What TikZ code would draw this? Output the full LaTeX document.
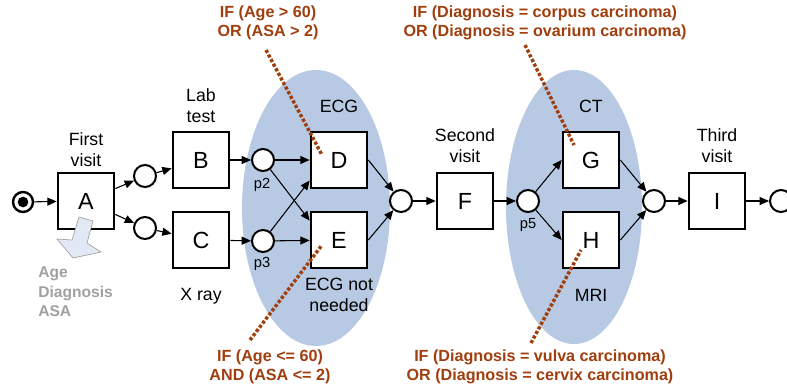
\documentclass[tikz,border=0pt]{standalone}
\usepackage{fontspec}
\setmainfont{Liberation Sans}
\usetikzlibrary{arrows.meta,calc,backgrounds}
\definecolor{ellblue}{RGB}{184,202,227}
\definecolor{condred}{RGB}{160,62,14}
\definecolor{attrgrey}{RGB}{160,160,160}
\definecolor{arrowfill}{RGB}{226,233,245}
\begin{document}
\begin{tikzpicture}[x=0.75pt,y=-0.75pt,
 task/.style={draw,line width=1.5pt,fill=white,minimum size=42.5pt,inner sep=0pt,font=\fontsize{17.5}{20}\selectfont},
 place/.style={circle,draw,line width=1.5pt,fill=white,minimum size=16.5pt,inner sep=0pt},
 lbl/.style={align=center,font=\fontsize{13.3}{15.6}\selectfont,inner sep=0pt},
 plbl/.style={font=\fontsize{11}{13}\selectfont,inner sep=0pt},
 cond/.style={align=center,text=condred,font=\bfseries\fontsize{12.1}{14.3}\selectfont,inner sep=0pt},
 attr/.style={align=left,text=attrgrey,font=\bfseries\fontsize{11.7}{14.6}\selectfont,inner sep=0pt},
 flow/.style={line width=0.8pt,-{Triangle[length=7pt,width=6pt]}},
 link/.style={draw=condred,line width=2.6pt,dash pattern=on 2.4pt off 1.5pt},
]
\useasboundingbox (0,0) rectangle (787,390);

% places
\node[place,minimum size=15pt,line width=1.8pt] (start) at (23,202) {};
\node[circle,fill,minimum size=8pt,inner sep=0pt] (startdot) at (start.center) {};
\node[place] (p1) at (145,176) {};
\node[place] (p1b) at (145,228) {};
\node[place] (p2) at (263,160) {};
\node[place] (p3) at (263,241) {};
\node[place] (p4) at (401,201) {};
\node[place] (p5) at (528,201) {};
\node[place] (p6) at (654,201) {};
\node[place] (pend) at (781,201) {};

% tasks
\node[task] (A) at (86,201) {A};
\node[task] (B) at (201,160) {B};
\node[task] (C) at (201,240) {C};
\node[task] (D) at (339,160) {D};
\node[task] (E) at (339,240) {E};
\node[task] (F) at (465,201) {F};
\node[task] (G) at (591,160) {G};
\node[task] (H) at (591,240) {H};
\node[task] (I) at (717,201) {I};

% ellipses
\begin{scope}[on background layer]
\fill[ellblue] (316,208) ellipse [x radius=74, y radius=138];
\fill[ellblue] (574,207) ellipse [x radius=68, y radius=137];
\end{scope}

% flows
\draw[flow] (start) -- (A);
\draw[flow] (A) -- (p1);
\draw[flow] (A) -- (p1b);
\draw[flow] (p1) -- (B);
\draw[flow] (p1b) -- (C);
\draw[flow] (B) -- (p2);
\draw[flow] (C) -- (p3);
\draw[flow] (p2) -- (D);
\draw[flow] (p3) -- (E);
\draw[flow] (p2) -- ($(E.north west)!0.17!(E.south west)$);
\draw[flow] (p3) -- ($(D.north west)!0.85!(D.south west)$);
\draw[flow] (D.east) -- (p4);
\draw[flow] (E.east) -- (p4);
\draw[flow] (p4) -- (F);
\draw[flow] (F) -- (p5);
\draw[flow] (p5) -- (G.west);
\draw[flow] (p5) -- (H.west);
\draw[flow] (G.east) -- (p6);
\draw[flow] (H.east) -- (p6);
\draw[flow] (p6) -- (I);
\draw[flow] (I) -- (pend);

% grey block arrow
\draw[draw=attrgrey,line width=0.5pt,fill=arrowfill,line join=miter]
  (79,217) -- (93,221) -- (87,243) -- (101,252) -- (73,258) -- (57,239) -- (72,240) -- cycle;

% labels
\node[lbl] (lA) at (86,150) {First\\visit};
\node[lbl] (lB) at (201,106) {Lab\\test};
\node[lbl] (lC) at (201,296) {X ray};
\node[lbl] (lD) at (339,106) {ECG};
\node[lbl] (lE) at (339,295) {ECG not\\needed};
\node[lbl] (lF) at (465,146) {Second\\visit};
\node[lbl] (lG) at (591,106) {CT};
\node[lbl] (lH) at (591,295) {MRI};
\node[lbl] (lI) at (717,146) {Third\\visit};
\node[plbl] (lp2) at (262,185) {p2};
\node[plbl] (lp3) at (262,264) {p3};
\node[plbl] (lp5) at (528,225) {p5};

\node[attr,anchor=west] (attrs) at (38,292) {Age\\Diagnosis\\ASA};

% conditions
\node[cond] (c1) at (268,23) {IF (Age > 60)\\OR (ASA > 2)};
\node[cond] (c2) at (270,367) {IF (Age <= 60)\\AND (ASA <= 2)};
\node[cond] (c3) at (545,23) {IF (Diagnosis = corpus carcinoma)\\OR (Diagnosis = ovarium carcinoma)};
\node[cond] (c4) at (540,367) {IF (Diagnosis = vulva carcinoma)\\OR (Diagnosis = cervix carcinoma)};

\coordinate (l1a) at (266,50);  \coordinate (l1b) at (322,155);
\coordinate (l2a) at (250,340); \coordinate (l2b) at (322,245);
\coordinate (l3a) at (525,45);  \coordinate (l3b) at (574,145);
\coordinate (l4a) at (531,343); \coordinate (l4b) at (581,250);
\draw[link] (l1a) -- (l1b);
\draw[link] (l2a) -- (l2b);
\draw[link] (l3a) -- (l3b);
\draw[link] (l4a) -- (l4b);
\end{tikzpicture}
\end{document}
